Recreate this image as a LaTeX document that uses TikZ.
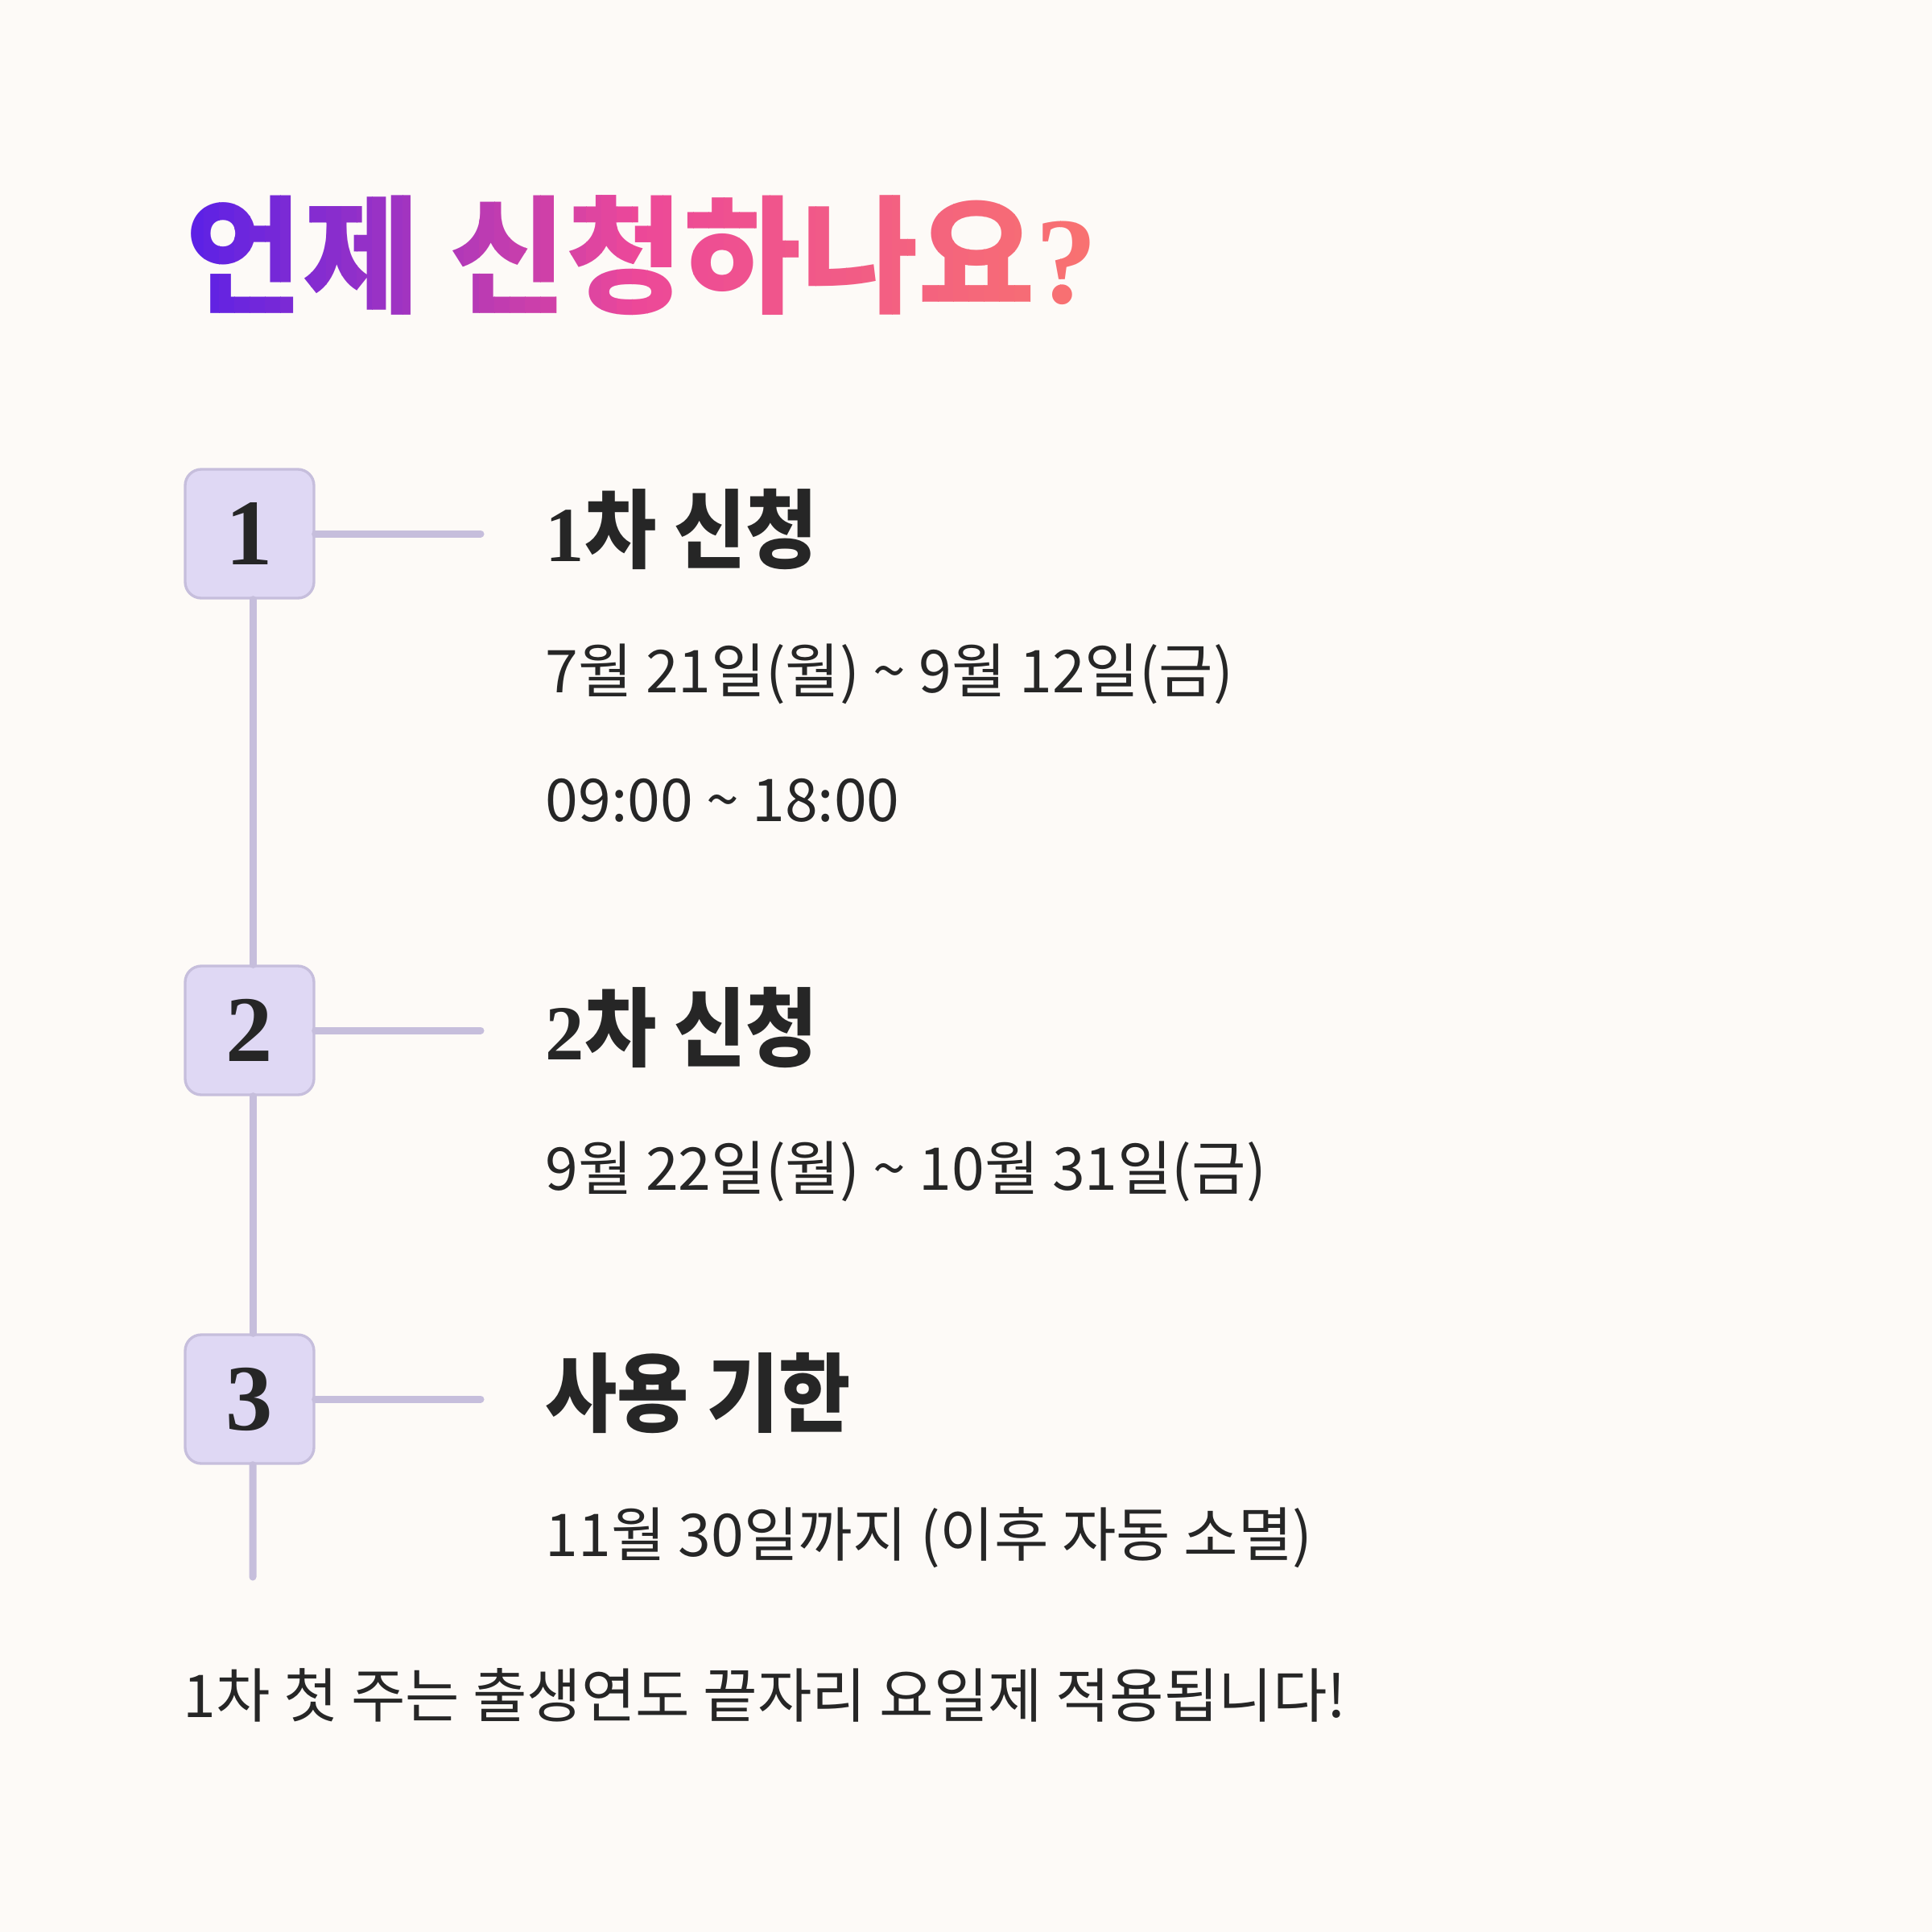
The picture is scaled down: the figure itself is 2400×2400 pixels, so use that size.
\documentclass[tikz,border=0pt]{standalone}
\usepackage{fontspec}
\newfontfamily\krfont{Noto Sans CJK KR}
\newfontfamily\krhead[FakeStretch=0.91]{Noto Sans CJK KR}
\newfontfamily\digserif{Liberation Serif}
\definecolor{bg}{HTML}{FDFAF7}
\definecolor{ink}{HTML}{262626}
\definecolor{boxfill}{HTML}{DFD8F4}
\definecolor{boxline}{HTML}{C6BEDC}
\definecolor{gA}{HTML}{5B21E6}
\definecolor{gB}{HTML}{EC4899}
\definecolor{gC}{HTML}{F87171}
\tikzset{
  numbox/.style={draw=boxline, fill=boxfill, line width=1pt, rounded corners=6pt,
    minimum width=48pt, minimum height=48pt, inner sep=0pt, text=ink,
    font=\digserif\bfseries\fontsize{35pt}{35pt}\selectfont},
  conn/.style={draw=boxline, line width=2.7pt, line cap=round},
  heading/.style={anchor=base west, inner sep=0pt, text=ink,
    font=\krhead\bfseries\fontsize{32pt}{32pt}\selectfont},
  body/.style={anchor=base west, inner sep=0pt, text=ink,
    font=\krfont\fontsize{22pt}{22pt}\selectfont},
  titletext/.style={anchor=base west, inner sep=0pt,
    font=\krfont\bfseries\fontsize{47.5pt}{47.5pt}\selectfont},
}
\newcommand{\hdig}[1]{{\digserif\bfseries\fontsize{29pt}{29pt}\selectfont #1}}
\newcommand{\tq}{{\digserif\bfseries\fontsize{46pt}{46pt}\selectfont ?}}
\begin{document}
\begin{tikzpicture}[x=0.3pt, y=-0.3pt]
  \fill[bg] (0,0) rectangle (2400,2400);
  \useasboundingbox (0,0) rectangle (2400,2400);
  % title with horizontal gradient, drawn in clipped vertical strips
  \foreach \i in {0,...,63}{
    \pgfmathsetmacro\xa{215+\i*19}
    \pgfmathsetmacro\xb{\xa+19.6}
    \pgfmathtruncatemacro\t{max(0,min(200,round((\xa+9.5-237)/1102*200)))}
    \ifnum\t<100
      \colorlet{tc}{gB!\t!gA}
    \else
      \pgfmathtruncatemacro\u{\t-100}
      \colorlet{tc}{gC!\u!gB}
    \fi
    \begin{scope}
      \clip (\xa,180) rectangle (\xb,460);
      \node[titletext, text=tc] (title\i) at (230,376) {언제 신청하나요\tq};
    \end{scope}
  }
  % number boxes
  \node[numbox] (n1) at (310,663) {1};
  \node[numbox] (n2) at (310,1280) {2};
  \node[numbox] (n3) at (310,1738) {3};
  \coordinate (h1) at (597,663);
  \coordinate (h2) at (597,1280);
  \coordinate (h3) at (597,1738);
  \coordinate (vend) at (314,1959);
  \draw[conn] ([xshift=1.2pt]n1.south) -- ([xshift=1.2pt]n2.north);
  \draw[conn] ([xshift=1.2pt]n2.south) -- ([xshift=1.2pt]n3.north);
  \draw[conn] ([xshift=1.2pt]n3.south) -- (vend);
  \draw[conn] (n1.east) -- (h1);
  \draw[conn] (n2.east) -- (h2);
  \draw[conn] (n3.east) -- (h3);
  % headings
  \node[heading] (t1) at (677,697) {\hdig{1}차 신청};
  \node[heading] (t2) at (677,1316) {\hdig{2}차 신청};
  \node[heading] (t3) at (677,1770) {사용 기한};
  % body
  \node[body] (b1) at (677,860) {7월 21일(월) \textasciitilde{} 9월 12일(금)};
  \node[body] (b2) at (677,1020) {09:00 \textasciitilde{} 18:00};
  \node[body] (b3) at (677,1478) {9월 22일(월) \textasciitilde{} 10월 31일(금)};
  \node[body] (b4) at (677,1933) {11월 30일까지 (이후 자동 소멸)};
  \node[body] (foot) at (227,2133) {1차 첫 주는 출생연도 끝자리 요일제 적용됩니다!};
\end{tikzpicture}
\end{document}
